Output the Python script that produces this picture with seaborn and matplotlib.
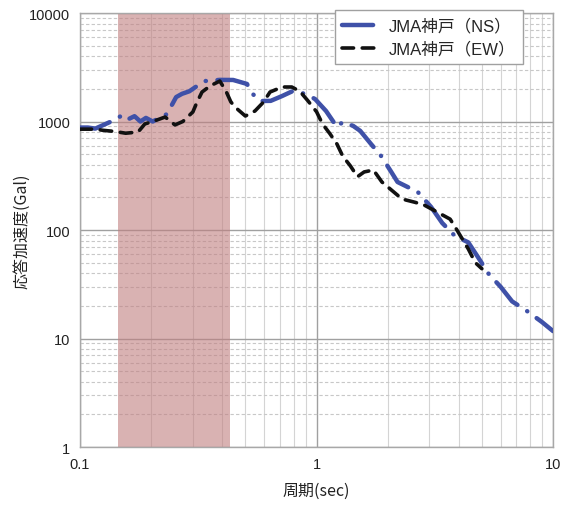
import numpy as np
import pandas as pd
import matplotlib
matplotlib.use("Agg")
import matplotlib.pyplot as plt
import matplotlib.ticker as mticker
import seaborn as sns

# ── Response spectra (period sec, accel Gal) ──
ns_period = [0.100, 0.108, 0.116, 0.134, 0.152, 0.160, 0.170, 0.180, 0.190, 0.203,
             0.233, 0.255, 0.270, 0.290, 0.310, 0.337, 0.390, 0.444, 0.508, 0.538,
             0.577, 0.640, 0.715, 0.794, 0.903, 0.986, 1.097, 1.220, 1.290, 1.430,
             1.530, 1.700, 1.875, 2.070, 2.200, 2.680, 3.050, 3.400, 3.850, 4.380,
             4.820, 5.360, 6.000, 6.710, 7.760, 8.970, 10.00]
ns_accel = [880, 880, 860, 990, 1150, 1050, 1120, 1000, 1080, 1000,
            1170, 1680, 1800, 1900, 2100, 2360, 2420, 2415, 2220, 1790,
            1545, 1550, 1717, 1910, 1790, 1610, 1250, 890, 990, 910,
            820, 620, 481, 343, 277, 224, 163, 116, 88, 77,
            56, 39, 30, 22, 17.9, 14.2, 11.7]

ew_period = [0.100, 0.116, 0.125, 0.140, 0.156, 0.176, 0.188, 0.203, 0.229, 0.252,
             0.272, 0.300, 0.312, 0.328, 0.355, 0.390, 0.414, 0.434, 0.452, 0.500,
             0.549, 0.595, 0.636, 0.715, 0.786, 0.850, 0.920, 1.000, 1.060, 1.140,
             1.220, 1.290, 1.390, 1.490, 1.590, 1.740, 1.890, 2.300, 2.610, 2.850,
             3.170, 3.670, 3.850, 4.380, 4.690, 5.000]
ew_accel = [850, 850, 830, 810, 780, 800, 950, 1000, 1100, 930,
            1000, 1225, 1500, 1870, 2130, 2360, 1910, 1520, 1360, 1124,
            1250, 1500, 1870, 2080, 2080, 1900, 1550, 1230, 950, 770,
            620, 480, 390, 310, 343, 357, 277, 193, 180, 170,
            150, 126, 107, 67, 50, 44]

band = (0.145, 0.43)   # shaded period band

ns_df = pd.DataFrame({"period": ns_period, "accel": ns_accel})
ew_df = pd.DataFrame({"period": ew_period, "accel": ew_accel})

sns.set_style("white")
plt.rcParams["font.family"] = ["Noto Sans CJK JP", "DejaVu Sans"]

fig = plt.figure(figsize=(5.69, 5.06), dpi=100)
ax = fig.add_axes([0.1406, 0.1146, 0.8314, 0.8577])

ax.set_xscale("log")
ax.set_yscale("log")
ax.set_xlim(0.1, 10)
ax.set_ylim(1, 10000)

# grid
ax.xaxis.set_minor_locator(mticker.LogLocator(base=10, subs=np.arange(2, 10)))
ax.yaxis.set_minor_locator(mticker.LogLocator(base=10, subs=np.arange(2, 10)))
ax.grid(which="major", color="#a0a0a0", linewidth=1.0, zorder=0)
ax.grid(which="minor", axis="x", color="#d4d4d4", linewidth=0.8, zorder=0)
ax.grid(which="minor", axis="y", color="#c8c8c8", linewidth=0.8,
        linestyle=(0, (3, 2)), zorder=0)
ax.set_axisbelow(True)

ax.axvspan(band[0], band[1], color="#c07f80", alpha=0.6, lw=0, zorder=1)

sns.lineplot(data=ns_df, x="period", y="accel", ax=ax, color="#3f51a8",
             linewidth=3.2, linestyle=(0, (7, 2.6, 0.05, 2.6)),
             dash_capstyle="round", sort=False, label="JMA神戸（NS）", zorder=3)
sns.lineplot(data=ew_df, x="period", y="accel", ax=ax, color="#111111",
             linewidth=2.6, linestyle=(0, (3.2, 2.4)),
             dash_capstyle="round", sort=False, label="JMA神戸（EW）", zorder=4)

ax.xaxis.set_major_formatter(mticker.FuncFormatter(lambda v, p: f"{v:g}"))
ax.yaxis.set_major_formatter(mticker.FuncFormatter(lambda v, p: f"{v:g}"))
ax.xaxis.set_minor_formatter(mticker.NullFormatter())
ax.yaxis.set_minor_formatter(mticker.NullFormatter())
ax.tick_params(which="both", length=0, labelsize=10.5, colors="#222222", pad=7)
for lbl in ax.get_xticklabels() + ax.get_yticklabels():
    lbl.set_family(["Liberation Sans", "DejaVu Sans"])

for s in ax.spines.values():
    s.set_color("#a8a8a8")
    s.set_linewidth(1.0)

ax.set_xlabel("周期(sec)", fontsize=11.5, color="#222222", labelpad=8)
ax.set_ylabel("応答加速度(Gal)", fontsize=11.5, color="#222222")
ax.yaxis.set_label_coords(-0.105, 0.5)

leg = ax.legend(loc="upper right", bbox_to_anchor=(0.937, 1.007), fontsize=12,
                frameon=True, fancybox=False, edgecolor="#a0a0a0", framealpha=1,
                handlelength=2.0, borderpad=0.45, labelspacing=0.45,
                handletextpad=0.8, borderaxespad=0)
leg.get_frame().set_linewidth(1.0)
for t in leg.get_texts():
    t.set_family(["Liberation Sans", "Noto Sans CJK JP"])

fig.savefig("out.png", dpi=100)
